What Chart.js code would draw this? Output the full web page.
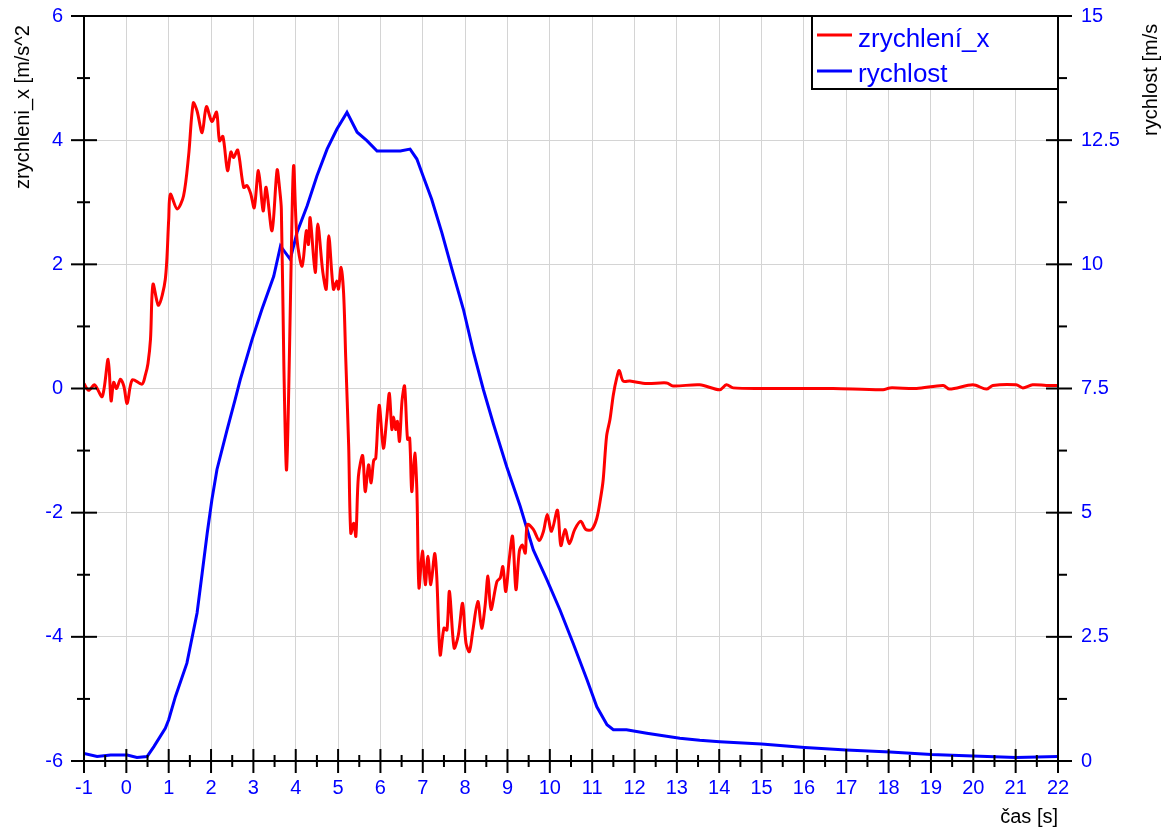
<!DOCTYPE html>
<html><head><meta charset="utf-8">
<script src="https://cdn.jsdelivr.net/npm/chart.js@4"></script>
<style>html,body{margin:0;padding:0;background:#fff}#wrap{width:1169px;height:830px;position:relative}</style>
</head><body><div id="wrap"><canvas id="c" width="1169" height="830"></canvas></div>
<script>
// ---- data ----
const accelTime = [-1.0,-0.89,-0.75,-0.57,-0.43,-0.36,-0.30,-0.23,-0.14,-0.06,0.02,0.14,0.37,0.45,0.51,0.57,0.63,0.76,0.92,1.0,1.04,1.20,1.35,1.47,1.58,1.67,1.79,1.89,2.02,2.13,2.20,2.28,2.39,2.47,2.53,2.63,2.77,2.85,2.94,3.02,3.12,3.23,3.30,3.44,3.56,3.62,3.66,3.72,3.78,3.83,3.89,3.95,4.03,4.15,4.25,4.30,4.34,4.46,4.52,4.64,4.72,4.78,4.89,4.97,5.01,5.07,5.13,5.18,5.25,5.30,5.37,5.42,5.48,5.58,5.64,5.72,5.78,5.84,5.89,5.97,6.07,6.15,6.21,6.27,6.31,6.36,6.40,6.45,6.51,6.57,6.64,6.69,6.74,6.81,6.86,6.91,6.99,7.06,7.12,7.19,7.28,7.33,7.41,7.50,7.57,7.63,7.74,7.84,7.94,8.02,8.10,8.18,8.30,8.39,8.47,8.54,8.61,8.75,8.83,8.89,8.96,9.04,9.12,9.20,9.28,9.35,9.42,9.47,9.61,9.75,9.85,9.94,10.04,10.18,10.26,10.36,10.46,10.59,10.73,10.85,10.99,11.11,11.20,11.26,11.34,11.42,11.50,11.58,11.64,11.73,11.89,12.29,12.76,12.91,13.54,14.01,14.17,14.33,15.12,15.9,16.69,17.87,18.03,18.66,19.29,19.44,19.99,20.31,20.46,21.01,21.17,21.40,21.72,22.0];
const accelValues = [0.08,-0.03,0.06,-0.13,0.47,-0.2,0.10,0.0,0.15,0.04,-0.24,0.14,0.07,0.22,0.4,0.79,1.68,1.34,1.76,2.72,3.13,2.89,3.10,3.75,4.60,4.47,4.12,4.54,4.30,4.45,3.99,4.06,3.51,3.81,3.72,3.84,3.24,3.27,3.13,2.91,3.51,2.86,3.24,2.54,3.52,3.21,2.89,0.36,-1.31,-0.18,1.97,3.59,2.40,1.97,2.54,2.32,2.75,1.87,2.65,1.87,1.60,2.46,1.60,1.73,1.60,1.95,1.54,0.5,-0.93,-2.33,-2.17,-2.38,-1.41,-1.08,-1.66,-1.23,-1.52,-1.16,-1.12,-0.27,-0.96,-0.47,-0.08,-0.66,-0.46,-0.66,-0.53,-0.85,-0.20,0.04,-0.82,-0.80,-1.66,-1.04,-1.63,-3.21,-2.62,-3.16,-2.70,-3.16,-2.66,-3.03,-4.29,-3.86,-3.89,-3.27,-4.18,-3.97,-3.46,-4.10,-4.24,-3.91,-3.43,-3.86,-3.51,-3.02,-3.56,-3.11,-3.05,-2.87,-3.27,-2.76,-2.38,-3.24,-2.62,-2.52,-2.65,-2.19,-2.27,-2.45,-2.30,-2.03,-2.30,-1.96,-2.53,-2.27,-2.50,-2.27,-2.14,-2.27,-2.27,-2.09,-1.76,-1.47,-0.77,-0.50,-0.10,0.17,0.29,0.12,0.12,0.08,0.09,0.04,0.06,-0.02,0.06,0.01,0.0,0.0,0.0,-0.02,0.01,0.0,0.05,-0.01,0.06,-0.01,0.05,0.06,0.01,0.06,0.05,0.05];
const speedTime = [-1.0,-0.69,-0.37,0.02,0.25,0.49,0.65,0.92,1.0,1.16,1.43,1.67,1.79,1.91,2.02,2.14,2.38,2.57,2.69,2.97,3.20,3.48,3.64,3.87,4.03,4.27,4.50,4.74,4.97,5.21,5.45,5.68,5.92,6.16,6.47,6.70,6.86,7.02,7.21,7.45,7.69,7.96,8.20,8.43,8.67,8.98,9.30,9.61,9.93,10.24,10.55,10.88,11.11,11.35,11.50,11.81,12.29,13.07,13.54,14.01,15.0,16.02,17.0,18.03,19.01,19.99,21.01,22.0];
const speedValues = [0.15,0.09,0.12,0.12,0.07,0.09,0.29,0.66,0.83,1.30,1.97,2.98,3.78,4.59,5.26,5.87,6.67,7.28,7.68,8.49,9.09,9.76,10.37,10.10,10.64,11.18,11.78,12.32,12.72,13.06,12.66,12.49,12.28,12.28,12.28,12.32,12.12,11.75,11.31,10.64,9.90,9.09,8.22,7.48,6.78,5.93,5.13,4.25,3.65,3.04,2.37,1.63,1.09,0.73,0.63,0.63,0.56,0.46,0.42,0.39,0.34,0.27,0.22,0.18,0.13,0.10,0.07,0.09];
const seriesNames = ['zrychlení_x', 'rychlost'];
const xTitle = 'čas [s]';
const yLeftTitle = 'zrychleni_x [m/s^2';
const yRightTitle = 'rychlost [m/s';

const FONT = "'Liberation Sans', Arial, sans-serif";
Chart.defaults.font.family = FONT;

const toPts = (xs, ys) => xs.map((x, i) => ({x, y: ys[i]}));

const axesPlugin = {
  id: 'axesPlugin',
  afterDraw(chart) {
    const ctx = chart.ctx, a = chart.chartArea;
    const sx = chart.scales.x, sy = chart.scales.y, sy1 = chart.scales.y1;
    ctx.save();
    ctx.strokeStyle = '#000'; ctx.lineWidth = 2; ctx.lineCap = 'butt';
    const line = (x1,y1,x2,y2)=>{ctx.beginPath();ctx.moveTo(x1,y1);ctx.lineTo(x2,y2);ctx.stroke();};
    line(a.left, a.top, a.left, a.bottom);
    line(a.right, a.top, a.right, a.bottom);
    line(a.left, a.bottom, a.right, a.bottom);
    line(a.left, a.top, a.right, a.top);
    for (let v = -6; v <= 6; v += 1) {
      const y = sy.getPixelForValue(v);
      if (v % 2 === 0) line(a.left-13, y, a.left+13, y); else line(a.left-7, y, a.left+6, y);
    }
    for (let v = 0; v <= 15.001; v += 1.25) {
      const y = sy1.getPixelForValue(v);
      if (Math.abs(v/2.5 - Math.round(v/2.5)) < 1e-6) line(a.right-12, y, a.right+14, y); else line(a.right, y, a.right+9, y);
    }
    for (let v = -1; v <= 22.001; v += 0.5) {
      const x = sx.getPixelForValue(v);
      if (Math.abs(v - Math.round(v)) < 1e-6) line(x, a.bottom-12, x, a.bottom+12); else line(x, a.bottom-6, x, a.bottom+6);
    }
    ctx.fillStyle = '#000';
    ctx.font = '20px ' + FONT;
    ctx.textAlign = 'right'; ctx.textBaseline = 'alphabetic';
    ctx.fillText(xTitle, a.right, 823);
    ctx.save(); ctx.translate(29, 189); ctx.rotate(-Math.PI/2);
    ctx.textAlign = 'left'; ctx.fillText(yLeftTitle, 0, 0); ctx.restore();
    ctx.save(); ctx.translate(1157, 136); ctx.rotate(-Math.PI/2);
    ctx.textAlign = 'left'; ctx.fillText(yRightTitle, 0, 0); ctx.restore();
    const lx = 812, ly = 16, lw = a.right - 812, lh = 73;
    ctx.fillStyle = '#fff'; ctx.fillRect(lx, ly, lw, lh);
    ctx.lineWidth = 2; ctx.strokeStyle = '#000'; ctx.strokeRect(lx, ly, lw, lh);
    const items = [[seriesNames[0], '#ff0000', 35, 47], [seriesNames[1], '#0000ff', 71, 82]];
    ctx.font = '26px ' + FONT; ctx.textAlign = 'left';
    items.forEach(([t, c, yl, yb]) => {
      ctx.strokeStyle = c; ctx.lineWidth = 3; line(817, yl, 852, yl);
      ctx.fillStyle = '#0000ff'; ctx.fillText(t, 858, yb);
    });
    ctx.restore();
  }
};

function noPad(s) { s.paddingTop = 0; s.paddingBottom = 0; s.paddingLeft = 0; s.paddingRight = 0; }

new Chart(document.getElementById('c'), {
  type: 'line',
  data: {
    datasets: [
      {label: seriesNames[0], data: toPts(accelTime, accelValues), borderColor: '#ff0000', borderWidth: 3, pointRadius: 0, tension: 0.3, yAxisID: 'y'},
      {label: seriesNames[1], data: toPts(speedTime, speedValues), borderColor: '#0000ff', borderWidth: 3, pointRadius: 0, tension: 0, yAxisID: 'y1'}
    ]
  },
  options: {
    responsive: false, animation: false, devicePixelRatio: 1,
    layout: {padding: {top: 16, left: 0, right: 0, bottom: 0}},
    plugins: {legend: {display: false}, tooltip: {enabled: false}},
    scales: {
      x: {type: 'linear', min: -1, max: 22,
        ticks: {stepSize: 1, autoSkip: false, color: '#0000ff', font: {size: 20}, padding: 15, maxRotation: 0},
        grid: {color: '#d4d4d4', lineWidth: 1, drawTicks: false}, border: {display: false},
        afterFit(s) { s.height = 69; noPad(s); }},
      y: {type: 'linear', position: 'left', min: -6, max: 6,
        ticks: {stepSize: 2, color: '#0000ff', font: {size: 20}, padding: 21},
        grid: {color: '#d4d4d4', lineWidth: 1, drawTicks: false}, border: {display: false},
        afterFit(s) { s.width = 84; noPad(s); }},
      y1: {type: 'linear', position: 'right', min: 0, max: 15,
        ticks: {stepSize: 2.5, color: '#0000ff', font: {size: 20}, padding: 23},
        grid: {display: false, drawTicks: false}, border: {display: false},
        afterFit(s) { s.width = 111; noPad(s); }}
    }
  },
  plugins: [axesPlugin]
});
</script></body></html>
